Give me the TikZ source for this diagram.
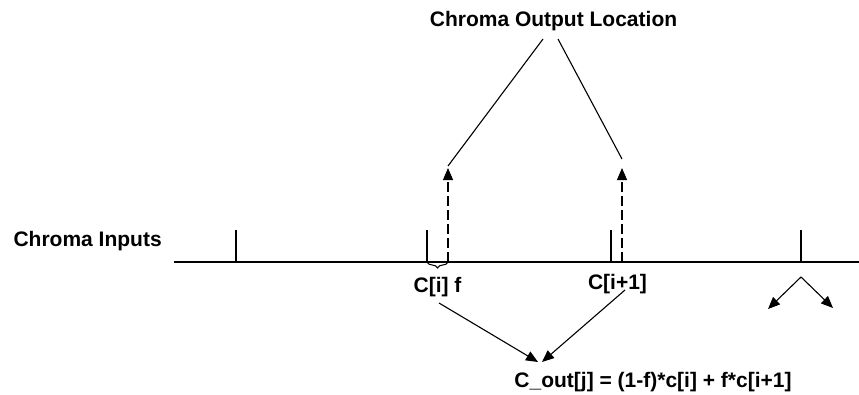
\documentclass[tikz,border=0pt]{standalone}
\usepackage{fontspec}
\setmainfont{Liberation Sans}
\usetikzlibrary{arrows.meta,decorations.pathreplacing}
\begin{document}
\begin{tikzpicture}[x=1pt,y=-1pt,
  line width=1.1pt,
  lbl/.style={font=\fontsize{21}{25}\selectfont\bfseries, inner sep=0pt, anchor=base},
  tip/.style={-{Triangle[length=12pt,width=10pt]}},
  dashline/.style={dash pattern=on 10pt off 4pt}]
\useasboundingbox (0,0) rectangle (859,394);
% texts
\node[lbl] (title) at (553.5,26) {Chroma Output Location};
\node[lbl, anchor=base west] (inputs) at (13,246) {Chroma Inputs};
\node[lbl] (ci) at (437.5,292) {C[i] f};
\node[lbl] (ci1) at (617.5,289) {C[i+1]};
\node[lbl] (form) at (653,387) {C\_out[j] = (1-f)*c[i] + f*c[i+1]};
% coordinates
\coordinate (axL) at (174,262);
\coordinate (axR) at (859,262);
\foreach \n/\x in {t1/236, t2/427, t3/611, t4/801}{
  \coordinate (\n b) at (\x,262);
  \coordinate (\n t) at (\x,230);
}
\coordinate (dLb) at (448,262);
\coordinate (dLt) at (448,168);
\coordinate (dRb) at (622,262);
\coordinate (dRt) at (622,168);
\coordinate (tL) at (543,39);
\coordinate (tLe) at (448,166);
\coordinate (tR) at (558,39);
\coordinate (tRe) at (622,159);
\coordinate (aL) at (439,303);
\coordinate (aR) at (625,290);
\coordinate (aLe) at (538,362);
\coordinate (aRe) at (542,362);
\coordinate (apex) at (801,277);
\coordinate (apL) at (768,309);
\coordinate (apR) at (833,308);
% axis and ticks
\draw (axL) -- (axR);
\foreach \n in {t1,t2,t3,t4}{ \draw (\n b) -- (\n t); }
% dashed arrows
\draw[dashline, tip] (dLb) -- (dLt);
\draw[dashline, tip] (dRb) -- (dRt);
% lines from title
\draw (tL) -- (tLe);
\draw (tR) -- (tRe);
% brace
\draw[decorate, decoration={brace, amplitude=6pt, mirror}, line width=1pt] (t2b) -- (dLb);
% arrows to formula
\draw[tip] (aL) -- (aLe);
\draw[tip] (aR) -- (aRe);
% arrows at right
\draw[tip] (apex) -- (apL);
\draw[tip] (apex) -- (apR);
\end{tikzpicture}
\end{document}
